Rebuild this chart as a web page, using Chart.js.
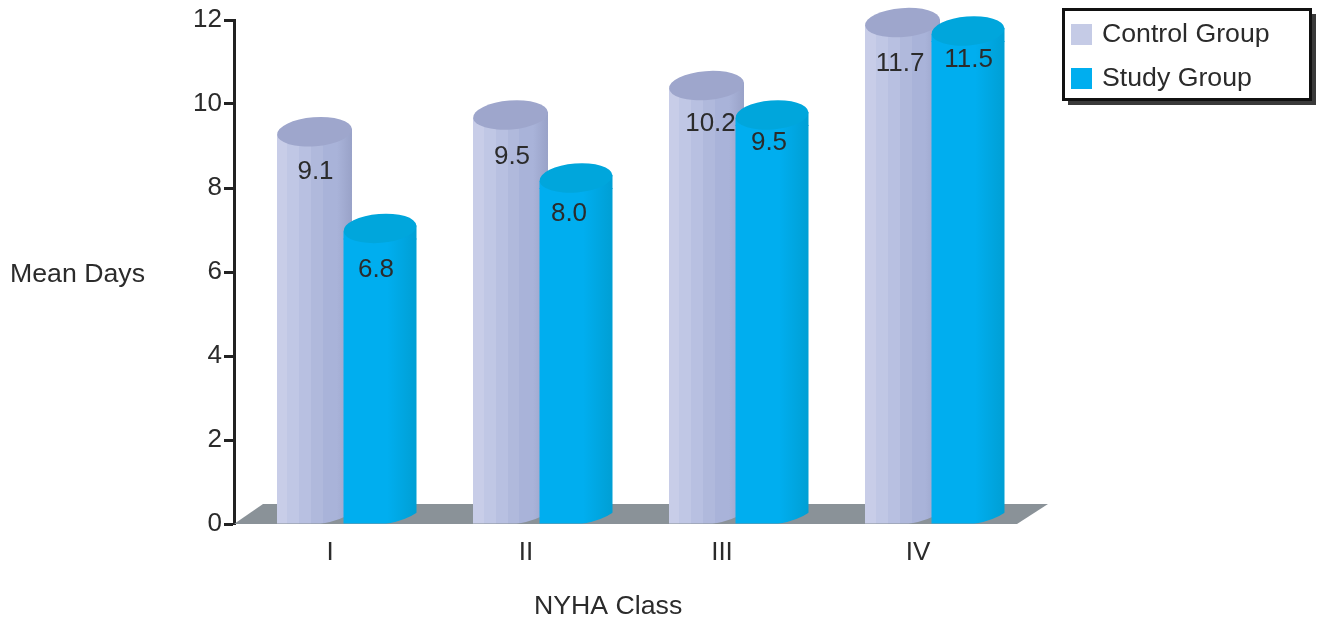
<!DOCTYPE html>
<html>
<head>
<meta charset="utf-8">
<title>Mean Days by NYHA Class</title>
<script src="https://cdn.jsdelivr.net/npm/chart.js@4/dist/chart.umd.min.js"></script>
<style>
  html, body { margin: 0; padding: 0; background: #fff; }
  canvas { display: block; }
</style>
</head>
<body>
<canvas id="myChart" width="1317" height="621"></canvas>
<script>
const categories = ['I', 'II', 'III', 'IV'];
const controlValues = [9.1, 9.5, 10.2, 11.7];
const studyValues = [6.8, 8.0, 9.5, 11.5];

const FAMILY = '"Liberation Sans", Arial, sans-serif';
const FONT = '26px ' + FAMILY;
const TITLE_FONT = '26.7px ' + FAMILY;
const TEXT = '#2b2b2b';
const FLOOR = '#8a9298';

// cylinders sit right of the tick and overlap, which grouped bars can't do
const look = [
  { dx: -17.5, width: 75, cap: '#9ea6cc', swatch: '#c5cbe6',
    stops: [[0, '#c8cde8'], [0.14, '#c8cde8'], [0.14, '#c0c7e5'], [0.3, '#c0c7e5'], [0.3, '#b8c0e1'],
      [0.46, '#b8c0e1'], [0.46, '#b0b9dc'], [0.62, '#b0b9dc'], [0.62, '#a9b3d9'], [0.8, '#a9b3d9'], [1, '#99a2c8']],
    labelDx: [1, 1.5, 4, -2.5], labelDy: [30, 32, 28, 31] },
  { dx: 48, width: 73, cap: '#00a6dc', swatch: '#00aeef',
    stops: [[0, '#00aeef'], [0.6, '#00aeef'], [1, '#009fd4']],
    labelDx: [-4, -7, -3, 0.5], labelDy: [31, 26, 18, 19] }
];

function sideFill(ctx, left, right, stops) {
  const g = ctx.createLinearGradient(left, 0, right, 0);
  stops.forEach(s => g.addColorStop(s[0], s[1]));
  return g;
}

function barFill(c) {
  const st = look[c.datasetIndex];
  if (c.dataIndex === undefined) return st.swatch;
  const x = c.chart.scales.x.getPixelForValue(c.dataIndex) + st.dx;
  if (!Number.isFinite(x)) return st.swatch; // scale not laid out yet
  return sideFill(c.chart.ctx, x - st.width / 2, x + st.width / 2, st.stops);
}

const cylinders = {
  id: 'cylinders',
  afterDatasetsUpdate(chart) {
    chart.data.datasets.forEach((ds, d) => {
      chart.getDatasetMeta(d).data.forEach((bar, i) => {
        bar.x = chart.scales.x.getPixelForValue(i) + look[d].dx;
        bar.width = look[d].width;
      });
    });
  },
  beforeDatasetsDraw(chart) {
    // floor under the bars
    const { ctx, chartArea: a } = chart;
    ctx.save();
    ctx.fillStyle = FLOOR;
    ctx.beginPath();
    ctx.moveTo(a.left, a.bottom);
    ctx.lineTo(a.left + 29, a.bottom - 20);
    ctx.lineTo(a.right + 30, a.bottom - 20);
    ctx.lineTo(a.right - 1, a.bottom);
    ctx.closePath();
    ctx.fill();
    ctx.restore();
  },
  afterDatasetDraw(chart, args) {
    const { ctx } = chart;
    const d = args.index;
    const st = look[d];
    ctx.save();
    chart.getDatasetMeta(d).data.forEach((bar, i) => {
      const left = bar.x - st.width / 2;
      const right = bar.x + st.width / 2;
      const cy = bar.y - 10;

      // rest of the side up to the cap
      ctx.fillStyle = sideFill(ctx, left, right, st.stops);
      ctx.beginPath();
      ctx.moveTo(left, cy + 3);
      ctx.lineTo(right, cy - 3);
      ctx.lineTo(right, bar.y + 1);
      ctx.lineTo(left, bar.y + 1);
      ctx.closePath();
      ctx.fill();

      ctx.fillStyle = st.cap;
      ctx.beginPath();
      ctx.ellipse(bar.x, cy, st.width / 2, 14.5, -0.08, 0, Math.PI * 2);
      ctx.fill();

      // rounded foot on the right hand side
      ctx.fillStyle = FLOOR;
      ctx.beginPath();
      ctx.moveTo(left + st.width * 0.58, bar.base + 0.5);
      ctx.quadraticCurveTo(left + st.width * 0.85, bar.base - 3, right + 0.5, bar.base - 11);
      ctx.lineTo(right + 0.5, bar.base + 0.5);
      ctx.closePath();
      ctx.fill();

      ctx.fillStyle = TEXT;
      ctx.font = FONT;
      ctx.textAlign = 'center';
      ctx.textBaseline = 'middle';
      ctx.fillText(chart.data.datasets[d].data[i].toFixed(1), bar.x + st.labelDx[i], bar.y + st.labelDy[i]);
    });
    ctx.restore();
  }
};

const labelsAndKey = {
  id: 'labelsAndKey',
  afterDraw(chart) {
    const { ctx } = chart;
    ctx.save();
    ctx.font = TITLE_FONT;
    ctx.fillStyle = TEXT;
    ctx.textBaseline = 'middle';
    ctx.textAlign = 'left';
    ctx.fillText('Mean Days', 10, 275);
    ctx.fillText('NYHA Class', 534, 607);

    // key box with its drop shadow
    ctx.fillStyle = '#3a3a3a';
    ctx.fillRect(1068, 14, 248, 91);
    ctx.fillStyle = '#fff';
    ctx.fillRect(1063, 9, 248, 91);
    ctx.strokeStyle = '#111';
    ctx.lineWidth = 3;
    ctx.strokeRect(1063.5, 9.5, 247, 90);

    chart.data.datasets.forEach((ds, d) => {
      const y = 34 + d * 44;
      ctx.fillStyle = look[d].swatch;
      ctx.fillRect(1071, y - 10, 21, 21);
      ctx.fillStyle = TEXT;
      ctx.fillText(ds.label, 1102, y + 1);
    });
    ctx.restore();
  }
};

new Chart(document.getElementById('myChart'), {
  type: 'bar',
  data: {
    labels: categories,
    datasets: [
      { label: 'Control Group', data: controlValues, backgroundColor: barFill, order: 2 },
      { label: 'Study Group', data: studyValues, backgroundColor: barFill, order: 1 }
    ]
  },
  plugins: [cylinders, labelsAndKey],
  options: {
    responsive: false,
    animation: false,
    layout: { padding: { top: 20, right: 299, left: 0, bottom: 0 } },
    plugins: { legend: { display: false }, tooltip: { enabled: false } },
    scales: {
      x: {
        border: { display: false },
        grid: { display: false },
        afterFit(scale) { scale.height = 97; },
        ticks: { font: { family: FAMILY, size: 26 }, color: TEXT, padding: 5, labelOffset: -2 }
      },
      y: {
        min: 0,
        max: 12,
        afterFit(scale) { scale.width = 234; },
        border: { color: '#222', width: 3 },
        grid: { drawOnChartArea: false, tickLength: 10, tickWidth: 3, tickColor: '#222' },
        ticks: { stepSize: 2, font: { family: FAMILY, size: 26 }, color: TEXT, padding: 2 }
      }
    }
  }
});
</script>
</body>
</html>
